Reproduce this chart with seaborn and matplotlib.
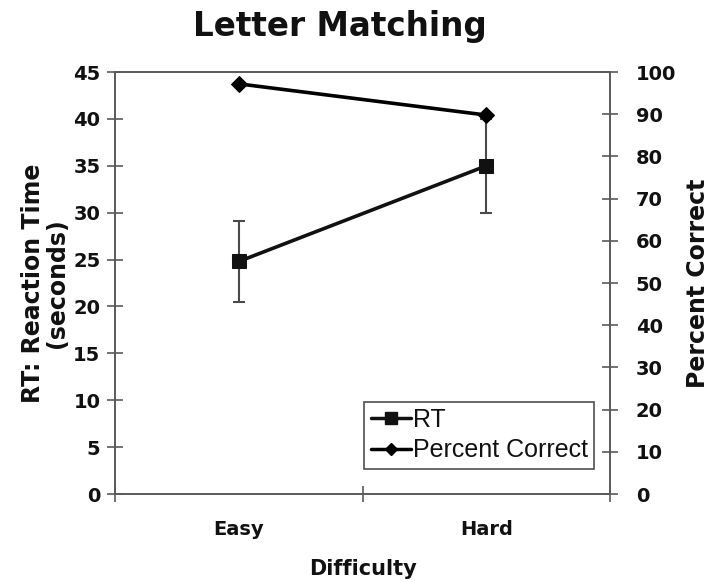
import numpy as np
import pandas as pd
import seaborn as sns
import matplotlib.pyplot as plt
from matplotlib.lines import Line2D

# values
difficulty = ["Easy", "Hard"]
rt_mean = [24.8, 35.0]
rt_err = [4.3, 5.0]
pct_correct = [97.2, 89.8]

sns.set_theme(style="white")
plt.rcParams['font.family'] = ['DejaVu Sans']

df = pd.DataFrame({"Difficulty": difficulty, "pos": range(len(difficulty)),
                   "RT": rt_mean, "err": rt_err, "Percent Correct": pct_correct})

fig = plt.figure(figsize=(7.12, 5.81), dpi=100)
ax = fig.add_axes([0.1615, 0.1497, 0.6955, 0.7263])
ax2 = ax.twinx()

spine_col = "#5a5a5a"
text_col = "#111111"

# RT with error bars
ax.errorbar(df["pos"], df["RT"], yerr=df["err"], fmt="none", ecolor="#4a4a4a",
            elinewidth=1.5, capsize=4, capthick=1.5, zorder=2)
sns.lineplot(data=df, x="pos", y="RT", ax=ax, color="#111111", lw=2.6,
             marker="s", markersize=10, markeredgecolor="#111111", zorder=3)

# percent correct on the right axis
sns.lineplot(data=df, x="pos", y="Percent Correct", ax=ax2, color="#000000", lw=2.6,
             marker="D", markersize=8, markeredgecolor="#000000", zorder=3)

ax.set_xlim(-0.5, len(difficulty) - 0.5)
ax.set_ylim(0, 45)
ax2.set_ylim(0, 100)
ax.set_yticks(np.arange(0, 46, 5))
ax2.set_yticks(np.arange(0, 101, 10))
ax.set_xticks(df["pos"])
ax.set_xticklabels(difficulty)
ax.set_xticks(np.arange(-0.5, len(difficulty), 1), minor=True)

for a in (ax, ax2):
    for s in a.spines.values():
        s.set_color(spine_col)
        s.set_linewidth(1.2)

ax.tick_params(axis="y", which="major", direction="inout", length=11, width=1.2,
               color=spine_col, left=True, pad=5)
ax2.tick_params(axis="y", which="major", direction="inout", length=11, width=1.2,
                color=spine_col, right=True, pad=13)
ax.tick_params(axis="x", which="major", length=0, pad=19)
ax.tick_params(axis="x", which="minor", direction="inout", length=11, width=1.2,
               color=spine_col, bottom=True)
for lab in ax.get_yticklabels() + ax2.get_yticklabels() + ax.get_xticklabels():
    lab.set_fontsize(14)
    lab.set_fontweight("bold")
    lab.set_color(text_col)

ax.set_xlabel("Difficulty", fontsize=15, fontweight="bold", labelpad=14, color=text_col)
ax.set_ylabel("RT: Reaction Time\n(seconds)", fontsize=17, fontweight="bold", labelpad=3,
              linespacing=1.0, color=text_col)
ax2.set_ylabel("Percent Correct", fontsize=17, fontweight="bold", labelpad=7, color=text_col)
fig.text(340 / 712, 1 - 36 / 581, "Letter Matching", fontsize=23.5, fontweight="bold",
         ha="center", va="baseline", color=text_col)

handles = [Line2D([], [], color="#111111", lw=2.5, marker="s", markersize=9),
           Line2D([], [], color="#000000", lw=2.5, marker="D", markersize=6)]
leg = ax.legend(handles, ["RT", "Percent Correct"], loc="lower right",
                bbox_to_anchor=(0.968, 0.06), frameon=True, fancybox=False,
                prop={"family": "Liberation Sans", "size": 18},
                handlelength=1.6, handletextpad=0.1, borderpad=0.25, labelspacing=0.25,
                borderaxespad=0)
leg.get_frame().set_edgecolor("#222222")
leg.get_frame().set_linewidth(1.2)
for t in leg.get_texts():
    t.set_color(text_col)

fig.savefig("out.png", dpi=100)
